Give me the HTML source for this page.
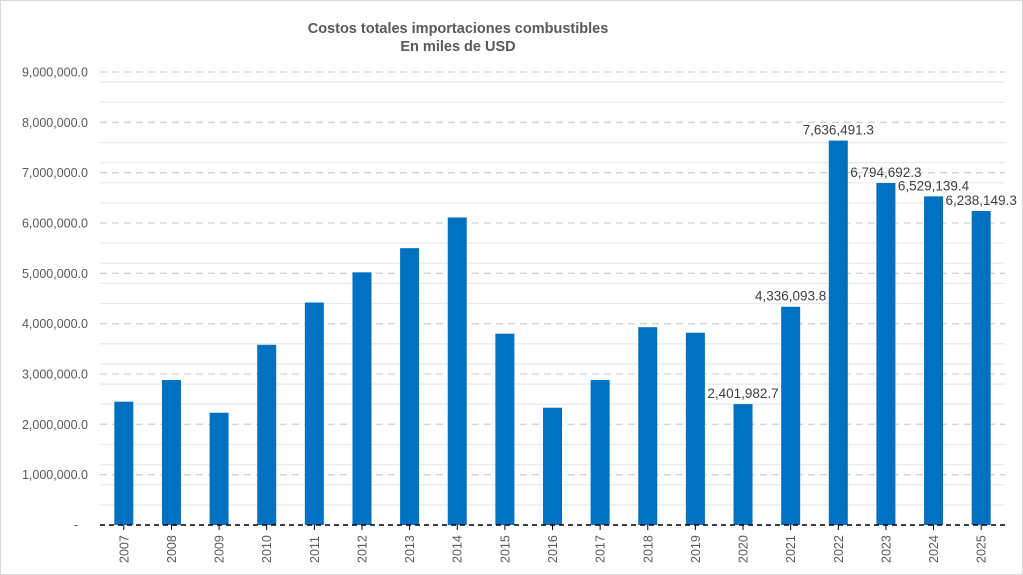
<!DOCTYPE html>
<html><head><meta charset="utf-8"><style>
body{margin:0;background:#fff}
svg{display:block;font-family:"Liberation Sans",Arial,sans-serif}
</style></head><body>
<svg width="1023" height="575" viewBox="0 0 1023 575" xmlns="http://www.w3.org/2000/svg">
<rect x="0.5" y="0.5" width="1022" height="574" fill="#fff" stroke="#d9d9d9"/>
<text x="458" y="33" text-anchor="middle" font-size="14.5" font-weight="bold" fill="#595959">Costos totales importaciones combustibles</text>
<text x="458" y="51" text-anchor="middle" font-size="14.5" font-weight="bold" fill="#595959">En miles de USD</text>
<g id="grid"></g>
<g id="bars"></g>
<line x1="100" y1="525" x2="1005" y2="525" stroke="#000" stroke-width="1.6" stroke-dasharray="5,4"/>
</svg>
<script>
var ns="http://www.w3.org/2000/svg",svg=document.querySelector('svg'),g=document.getElementById('grid'),b=document.getElementById('bars');
function el(p,t,a,txt){var e=document.createElementNS(ns,t);for(var k in a)e.setAttribute(k,a[k]);if(txt!=null)e.textContent=txt;p.appendChild(e);return e;}
var y0=525,ppm=453/9;
function Y(v){return y0-v/1e6*ppm;}
for(var i=1;i<=22;i++){var y=y0-i*0.4*ppm;if(Math.abs((i*0.4)-Math.round(i*0.4))<0.01)continue;el(g,'line',{x1:100,x2:1005,y1:y,y2:y,stroke:'#ebebeb','stroke-width':1.3});}
for(var m=1;m<=9;m++){var y=Y(m*1e6);el(g,'line',{x1:100,x2:1005,y1:y,y2:y,stroke:'#d4d4d4','stroke-width':1.3,'stroke-dasharray':'7,5'});
el(g,'text',{x:88,y:y+4.5,'text-anchor':'end','font-size':12.5,fill:'#595959'},m.toLocaleString('en-US')+',000,000.0'.slice(0,0)+(m+',000,000.0').slice(1));}
el(g,'text',{x:78,y:529,'text-anchor':'end','font-size':12.5,fill:'#595959'},'-');
var vals=[2450000,2880000,2230000,3580000,4420000,5020000,5500000,6110000,3800000,2330000,2880000,3930000,3820000,2401982.7,4336093.8,7636491.3,6794692.3,6529139.4,6238149.3];
var lab={13:'2,401,982.7',14:'4,336,093.8',15:'7,636,491.3',16:'6,794,692.3',17:'6,529,139.4',18:'6,238,149.3'};
var step=905/19;
vals.forEach(function(v,i){var cx=100+step*(i+0.5),t=Y(v);
el(b,'rect',{x:cx-9.5,y:t,width:19,height:y0-t,fill:'#0070c0'});
el(b,'line',{x1:cx,x2:cx,y1:525,y2:530,stroke:'#000','stroke-width':1});
var yr=2007+i;el(b,'text',{transform:'translate('+(cx+4.5)+',563) rotate(-90)','font-size':12.5,fill:'#595959'},yr);
if(lab[i])el(b,'text',{x:cx,y:t-6,'text-anchor':'middle','font-size':13.5,fill:'#404040'},lab[i]);
});
</script>
</body></html>
